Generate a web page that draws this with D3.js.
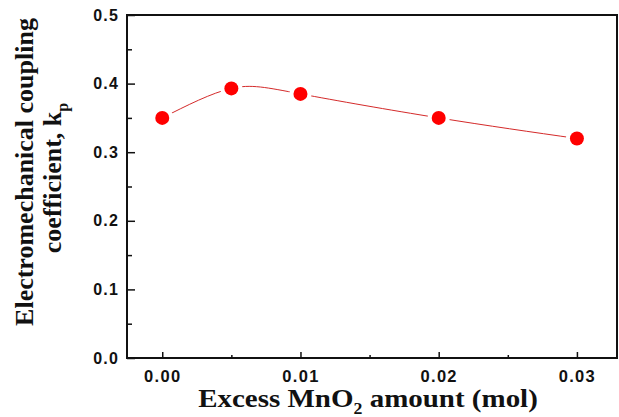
<!DOCTYPE html>
<html>
<head>
<meta charset="utf-8">
<script src="https://cdn.jsdelivr.net/npm/d3@7"></script>
<style>
  body { margin: 0; background: #fff; }
  svg { display: block; }
</style>
</head>
<body>
<div id="chart"></div>
<script>
// data
const mnoAmount = [0.000, 0.005, 0.010, 0.020, 0.030];
const kpValues = [0.350, 0.393, 0.385, 0.350, 0.320];
const xTicks = [0.00, 0.01, 0.02, 0.03];
const xMinorTicks = [0.005, 0.015, 0.025];
const yTicks = [0.0, 0.1, 0.2, 0.3, 0.4, 0.5];
const yMinorTicks = [0.05, 0.15, 0.25, 0.35, 0.45];

function drawChart() {
    const W = 619, H = 417;
    const margin = { top: 15, right: 2, bottom: 59, left: 127 };
    const width = W - margin.left - margin.right;
    const height = H - margin.top - margin.bottom;

    const svg = d3.select("#chart")
        .append("svg")
        .attr("width", W)
        .attr("height", H);

    const g = svg.append("g")
        .attr("transform", `translate(${margin.left},${margin.top})`);

    const x = d3.scaleLinear()
        .domain([-0.00255, 0.03290])
        .range([0, width]);

    const y = d3.scaleLinear()
        .domain([0, 0.5])
        .range([height, 0]);

    // frame
    g.append("rect")
        .attr("x", 0).attr("y", 0)
        .attr("width", width).attr("height", height)
        .attr("fill", "none")
        .attr("stroke", "#111")
        .attr("stroke-width", 2);

    const tickFont = "'Liberation Sans', Arial, sans-serif";

    // bottom axis (ticks inward)
    const xAxis = g.append("g")
        .attr("transform", `translate(0,${height})`)
        .call(d3.axisBottom(x).tickValues(xTicks).tickFormat(d3.format(".2f")).tickSizeInner(-6).tickSizeOuter(0).tickPadding(12));
    xAxis.select(".domain").remove();
    xAxis.selectAll(".tick line").attr("stroke", "#111").attr("stroke-width", 1.5);
    xAxis.selectAll("text")
        .attr("font-family", tickFont)
        .attr("font-weight", "bold")
        .attr("font-size", 16.5)
        .attr("letter-spacing", 1.3)
        .attr("fill", "#111");

    g.append("g")
        .attr("transform", `translate(0,${height})`)
        .call(d3.axisBottom(x).tickValues(xMinorTicks).tickFormat("").tickSizeInner(-3).tickSizeOuter(0))
        .call(a => a.select(".domain").remove())
        .selectAll(".tick line").attr("stroke", "#111").attr("stroke-width", 1.5);

    // left axis (ticks inward)
    const yAxis = g.append("g")
        .call(d3.axisLeft(y).tickValues(yTicks).tickFormat(d3.format(".1f")).tickSizeInner(-8).tickSizeOuter(0).tickPadding(8));
    yAxis.select(".domain").remove();
    yAxis.selectAll(".tick line").attr("stroke", "#111").attr("stroke-width", 1.5);
    yAxis.selectAll("text")
        .attr("font-family", tickFont)
        .attr("font-weight", "bold")
        .attr("font-size", 16)
        .attr("letter-spacing", 1.2)
        .attr("fill", "#111");

    g.append("g")
        .call(d3.axisLeft(y).tickValues(yMinorTicks).tickFormat("").tickSizeInner(-5).tickSizeOuter(0))
        .call(a => a.select(".domain").remove())
        .selectAll(".tick line").attr("stroke", "#111").attr("stroke-width", 1.5);

    const data = mnoAmount.map((m, i) => ({ m: m, k: kpValues[i] }));

    // smooth line through the points
    const line = d3.line()
        .x(d => x(d.m))
        .y(d => y(d.k))
        .curve(d3.curveNatural);

    g.append("path")
        .datum(data)
        .attr("d", line)
        .attr("fill", "none")
        .attr("stroke", "#d42a2a")
        .attr("stroke-width", 1);

    // white halo so the line stops short of each dot
    g.selectAll("circle.halo")
        .data(data)
        .join("circle")
        .attr("class", "halo")
        .attr("cx", d => x(d.m))
        .attr("cy", d => y(d.k))
        .attr("r", 11)
        .attr("fill", "#fff");

    g.selectAll("circle.dot")
        .data(data)
        .join("circle")
        .attr("class", "dot")
        .attr("cx", d => x(d.m))
        .attr("cy", d => y(d.k))
        .attr("r", 7)
        .attr("fill", "#ff0000");

    const titleFont = "'Liberation Serif', 'Times New Roman', serif";

    // x title (slightly stretched, like the original)
    const xt = svg.append("text")
        .attr("transform", "translate(368,407) scale(1.115,1)")
        .attr("text-anchor", "middle")
        .attr("font-family", titleFont)
        .attr("font-weight", "bold")
        .attr("font-size", 26)
        .attr("fill", "#111");
    xt.append("tspan").text("Excess MnO");
    xt.append("tspan").attr("font-size", 16).attr("dy", 7).text("2");
    xt.append("tspan").attr("dy", -7).text(" amount (mol)");

    // y title, two lines
    svg.append("text")
        .attr("transform", "translate(33,172) rotate(-90)")
        .attr("text-anchor", "middle")
        .attr("font-family", titleFont)
        .attr("font-weight", "bold")
        .attr("font-size", 26)
        .attr("fill", "#111")
        .text("Electromechanical coupling");

    const yt2 = svg.append("text")
        .attr("transform", "translate(61,178) rotate(-90)")
        .attr("text-anchor", "middle")
        .attr("font-family", titleFont)
        .attr("font-weight", "bold")
        .attr("font-size", 26)
        .attr("fill", "#111");
    yt2.append("tspan").text("coefficient, k");
    yt2.append("tspan").attr("font-size", 16).attr("dy", 7).text("p");
}

drawChart();
</script>
</body>
</html>
